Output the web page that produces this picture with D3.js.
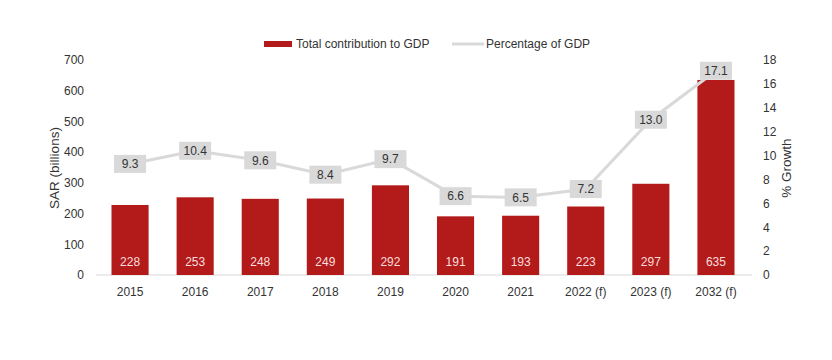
<!DOCTYPE html>
<html><head><meta charset="utf-8">
<script src="https://cdn.jsdelivr.net/npm/d3@7/dist/d3.min.js"></script>
<style>body{margin:0;background:#fff}svg{font-family:"Liberation Sans",Arial,sans-serif}</style>
</head><body><svg id="c" width="832" height="360"></svg>
<script>
const categories=["2015","2016","2017","2018","2019","2020","2021","2022 (f)","2023 (f)","2032 (f)"];
const contribution=[228,253,248,249,292,191,193,223,297,635];
const percentage=[9.3,10.4,9.6,8.4,9.7,6.6,6.5,7.2,13.0,17.1];
const leftTicks=[0,100,200,300,400,500,600,700];
const rightTicks=[0,2,4,6,8,10,12,14,16,18];

const svg=d3.select("#c");
const x=d3.scaleBand().domain(categories).range([97.5,748.5]).paddingInner(0.43).paddingOuter(0.215);
const y=d3.scaleLinear().domain([0,700]).range([275,60]);
const y2=d3.scaleLinear().domain([0,18]).range([275,60]);
const txt="#333";

// left axis
const la=svg.append("g").attr("transform","translate(96,0)").call(d3.axisLeft(y).tickValues(leftTicks).tickSize(0).tickPadding(12));
la.select(".domain").remove();
la.selectAll("text").attr("font-size",12).attr("fill",txt).attr("font-family","Liberation Sans, Arial");
// right axis
const ra=svg.append("g").attr("transform","translate(752,0)").call(d3.axisRight(y2).tickValues(rightTicks).tickSize(0).tickPadding(11));
ra.select(".domain").remove();
ra.selectAll("text").attr("font-size",12).attr("fill",txt).attr("font-family","Liberation Sans, Arial").attr("text-anchor","start");
// baseline
svg.append("line").attr("x1",96).attr("x2",752).attr("y1",y(0)).attr("y2",y(0)).attr("stroke","#d9d9d9").attr("stroke-width",1);
// x axis
const xa=svg.append("g").attr("transform",`translate(0,${y(0)})`).call(d3.axisBottom(x).tickSize(0).tickPadding(12));
xa.select(".domain").remove();
xa.selectAll("text").attr("font-size",12).attr("fill",txt).attr("font-family","Liberation Sans, Arial");

// bars
svg.selectAll("rect.bar").data(contribution).enter().append("rect").attr("class","bar")
 .attr("x",(d,i)=>x(categories[i])).attr("width",x.bandwidth())
 .attr("y",d=>y(d)).attr("height",d=>y(0)-y(d)).attr("fill","#b31b1b");
svg.selectAll("text.bl").data(contribution).enter().append("text").attr("class","bl")
 .attr("x",(d,i)=>x(categories[i])+x.bandwidth()/2).attr("y",y(0)-9)
 .attr("text-anchor","middle").attr("font-size",12).attr("fill","#f6dede").text(d=>d);

// line
const line=d3.line().x((d,i)=>x(categories[i])+x.bandwidth()/2).y(d=>y2(d));
svg.append("path").datum(percentage).attr("d",line).attr("fill","none").attr("stroke","#d9d9d9").attr("stroke-width",3);
const lg=svg.selectAll("g.pl").data(percentage).enter().append("g").attr("class","pl")
 .attr("transform",(d,i)=>`translate(${x(categories[i])+x.bandwidth()/2},${y2(d)})`);
lg.append("rect").attr("x",-16).attr("y",-9).attr("width",32).attr("height",18).attr("fill","#d9d9d9");
lg.append("text").attr("text-anchor","middle").attr("dy","0.36em").attr("font-size",12).attr("fill",txt).text(d=>d.toFixed(1));

// axis titles
svg.append("text").attr("transform","translate(59,168) rotate(-90)").attr("text-anchor","middle").attr("font-size",13.5).attr("fill",txt).text("SAR (billions)");
svg.append("text").attr("transform","translate(791,168) rotate(-90)").attr("text-anchor","middle").attr("font-size",13.5).attr("fill",txt).text("% Growth");

// legend
svg.append("rect").attr("x",264).attr("y",41).attr("width",28).attr("height",6).attr("fill","#b31b1b");
svg.append("text").attr("x",296).attr("y",48).attr("font-size",12).attr("fill",txt).text("Total contribution to GDP");
svg.append("line").attr("x1",452).attr("x2",484).attr("y1",44).attr("y2",44).attr("stroke","#d9d9d9").attr("stroke-width",3);
svg.append("text").attr("x",486).attr("y",48).attr("font-size",12).attr("fill",txt).text("Percentage of GDP");
</script></body></html>
